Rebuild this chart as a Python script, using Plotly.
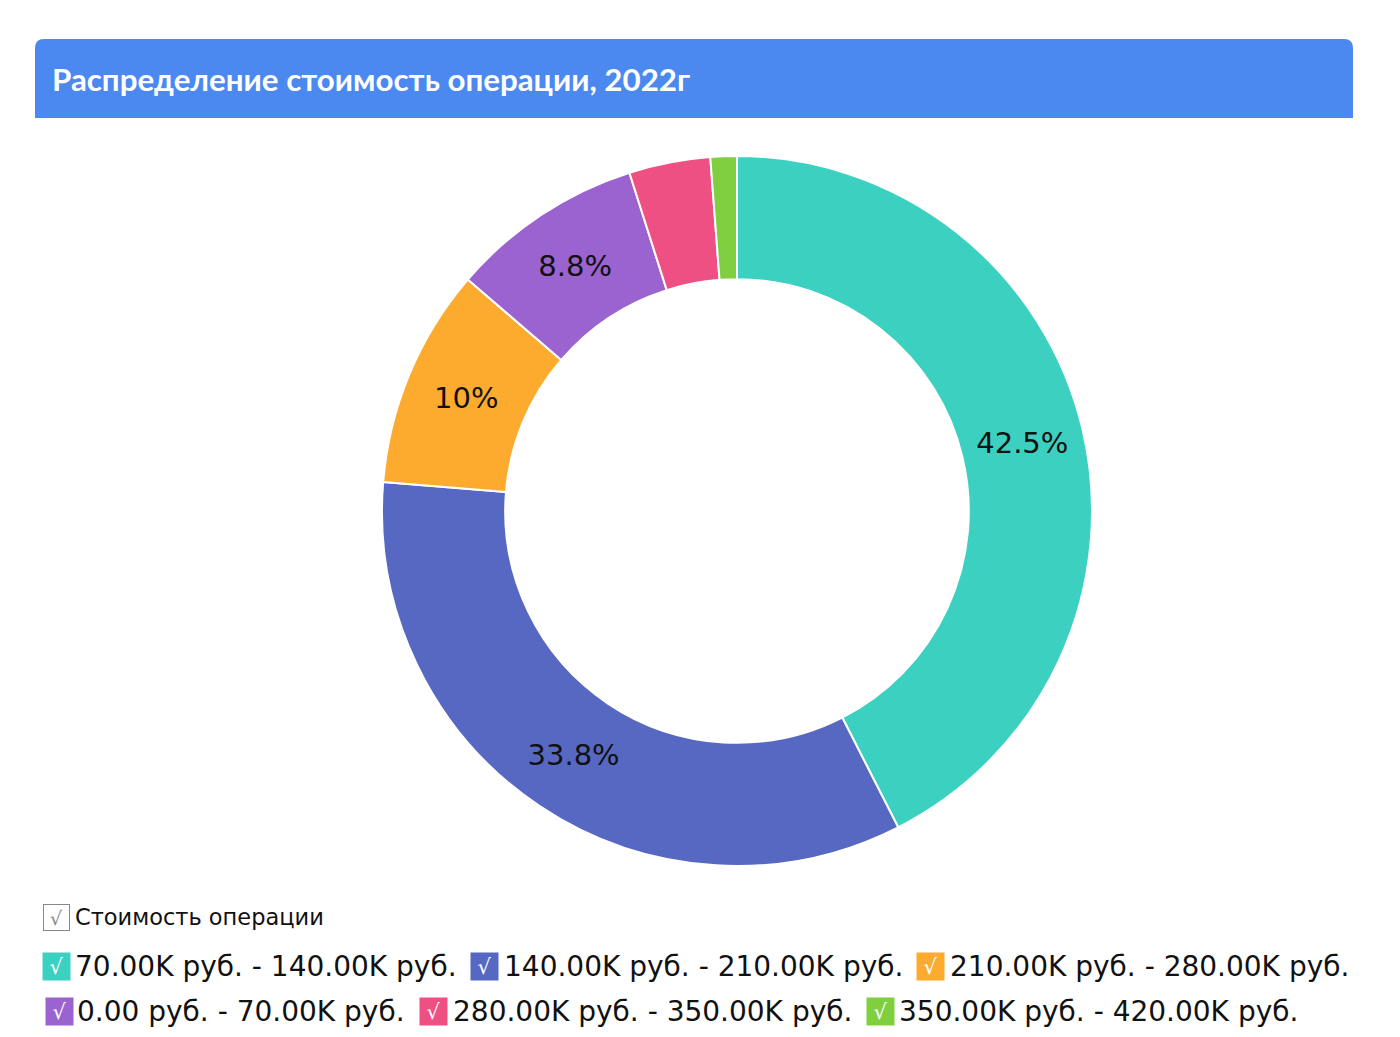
import plotly.graph_objects as go

# page body has an 8px margin; the figure fills the rest of the window
OFF = 8
W, H = 1400 - 2 * OFF, 1037 - 2 * OFF

title_text = "Распределение стоимость операции, 2022г"
legend_title = "Стоимость операции"
labels = [
    "70.00K руб. - 140.00K руб.",
    "140.00K руб. - 210.00K руб.",
    "210.00K руб. - 280.00K руб.",
    "0.00 руб. - 70.00K руб.",
    "280.00K руб. - 350.00K руб.",
    "350.00K руб. - 420.00K руб.",
]
values = [42.5, 33.8, 10.0, 8.8, 3.7, 1.2]
colors = ["#3bd0bf", "#5768c2", "#fdab2f", "#9a63d0", "#ef5083", "#7fcf3f"]


def px(x):
    return (x - OFF) / W


def py(y):
    return 1 - (y - OFF) / H


texts = [f"{v:g}%" if v >= 5 else "" for v in values]

fig = go.Figure()
fig.add_trace(go.Pie(
    labels=labels,
    values=values,
    text=texts,
    textinfo="text",
    textposition="inside",
    insidetextorientation="horizontal",
    textfont=dict(family="DejaVu Sans", size=29, color="#111111"),
    marker=dict(colors=colors, line=dict(color="white", width=2)),
    hole=0.653,
    sort=False,
    direction="clockwise",
    rotation=0,
    showlegend=False,
    hoverinfo="label+percent",
    domain=dict(x=[px(737 - 355), px(737 + 355)], y=[py(866), py(156)]),
))

# header bar with rounded top corners
x0, x1, y0, y1, r = 35, 1353, 39, 118, 9
path = (
    f"M {px(x0)},{py(y1)} L {px(x0)},{py(y0 + r)} "
    f"Q {px(x0)},{py(y0)} {px(x0 + r)},{py(y0)} "
    f"L {px(x1 - r)},{py(y0)} Q {px(x1)},{py(y0)} {px(x1)},{py(y0 + r)} "
    f"L {px(x1)},{py(y1)} Z"
)
shapes = [dict(type="path", xref="paper", yref="paper", path=path,
               fillcolor="#4b89f1", line=dict(width=0), layer="below")]

annotations = [dict(
    x=px(50), y=py(79), xref="paper", yref="paper", xanchor="left", yanchor="middle",
    text=f"<b>{title_text}</b>", showarrow=False,
    font=dict(family="Lato", size=31.3, color="white"),
)]

# legend title with gray checkbox
annotations.append(dict(
    x=px(56.5), y=py(917), xref="paper", yref="paper", xanchor="center", yanchor="middle",
    text="√", showarrow=False, width=25, height=25, borderpad=0,
    bordercolor="#888888", borderwidth=1, bgcolor="white",
    font=dict(family="DejaVu Sans", size=19, color="#888888"),
))
annotations.append(dict(
    x=px(73), y=py(917), xref="paper", yref="paper", xanchor="left", yanchor="middle",
    text=legend_title, showarrow=False,
    font=dict(family="DejaVu Sans", size=22.5, color="#111111"),
))

# custom legend entries
legend_pos = [(56.5, 73, 966), (484.5, 502, 966), (930.5, 948, 966),
              (59, 75, 1011), (433.5, 451, 1011), (880.5, 897, 1011)]
for lab, col, (bx, tx, y) in zip(labels, colors, legend_pos):
    annotations.append(dict(
        x=px(bx), y=py(y), xref="paper", yref="paper", xanchor="center", yanchor="middle",
        text="√", showarrow=False, width=27, height=27, borderpad=0, bgcolor=col,
        font=dict(family="DejaVu Sans", size=21, color="white"),
    ))
    annotations.append(dict(
        x=px(tx), y=py(y), xref="paper", yref="paper", xanchor="left", yanchor="middle",
        text=lab, showarrow=False,
        font=dict(family="DejaVu Sans", size=28, color="#111111"),
    ))

fig.update_layout(
    width=W, height=H,
    margin=dict(l=0, r=0, t=0, b=0),
    paper_bgcolor="white",
    plot_bgcolor="white",
    shapes=shapes,
    annotations=annotations,
    showlegend=False,
)

fig.write_html("out.html")
